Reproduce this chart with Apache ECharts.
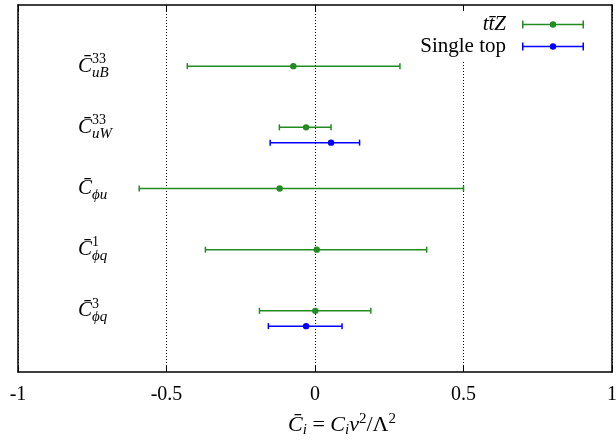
<!DOCTYPE html>
<html><head><meta charset="utf-8">
<script src="https://cdn.jsdelivr.net/npm/echarts@6/dist/echarts.min.js"></script>
<style>html,body{margin:0;padding:0;background:#fff}#c{width:616px;height:443px}</style>
</head><body><div id="c"></div>
<script>
// ---- data ----
const coeffMain = ['C\u0304', 'C\u0304', 'C\u0304', 'C\u0304', 'C\u0304'];
const coeffSup = ['33', '33', '', '1', '3'];
const coeffSub = ['uB', 'uW', '\u03D5u', '\u03D5q', '\u03D5q'];
const rowPos = [5, 4, 3, 2, 1];
const ttzCentral = [-0.073, -0.030, -0.119, 0.006, 0.001];
const ttzLow = [-0.430, -0.120, -0.592, -0.369, -0.187];
const ttzHigh = [0.286, 0.054, 0.500, 0.376, 0.188];
const stCentral = [null, 0.054, null, null, -0.030];
const stLow = [null, -0.151, null, null, -0.157];
const stHigh = [null, 0.150, null, null, 0.091];
const xTicks = [-1, -0.5, 0, 0.5, 1];
const seriesNames = ['ttZ', 'Single top'];
const xAxisTitle = '{m|C\u0304}{s|i}{r| = }{m|C}{s|i}{m|v}{p|2}{r|/\u039B}{p|2}';

// ---- build ----
const FONT = 'Liberation Serif';
const GREEN = '#228B22', BLUE = '#0000FF';
const stOffset = -0.25;

const ttzData = rowPos.map((y, i) => [ttzLow[i], ttzCentral[i], ttzHigh[i], y]);
const stData = [];
rowPos.forEach((y, i) => {
  if (stCentral[i] !== null) stData.push([stLow[i], stCentral[i], stHigh[i], y + stOffset]);
});

function renderErr(params, api) {
  const lo = api.value(0), c = api.value(1), hi = api.value(2), y = api.value(3);
  const pl = api.coord([lo, y]), pc = api.coord([c, y]), ph = api.coord([hi, y]);
  const color = api.visual('color');
  const cap = 3;
  const ls = {stroke: color, lineWidth: 1.5};
  return {type: 'group', children: [
    {type: 'line', shape: {x1: pl[0], y1: pl[1], x2: ph[0], y2: ph[1]}, style: ls},
    {type: 'line', shape: {x1: pl[0], y1: pl[1] - cap, x2: pl[0], y2: pl[1] + cap}, style: ls},
    {type: 'line', shape: {x1: ph[0], y1: ph[1] - cap, x2: ph[0], y2: ph[1] + cap}, style: ls},
    {type: 'circle', shape: {cx: pc[0], cy: pc[1], r: 3.2}, style: {fill: color}}
  ]};
}

const errIcon = 'path://M0,0L1.5,0L1.5,8L0,8Z M60.5,0L62,0L62,8L60.5,8Z M1.5,3.25L28,3.25L28,4.75L1.5,4.75Z M34,3.25L60.5,3.25L60.5,4.75L34,4.75Z M34.2,4A3.2,3.2 0 1,1 27.8,4A3.2,3.2 0 1,1 34.2,4Z';

function yLabel(v) {
  const i = rowPos.indexOf(v);
  if (i < 0) return '';
  let s = '{m|' + coeffMain[i] + '}';
  if (coeffSup[i]) s += '{p|' + coeffSup[i] + '}';
  s += '{b|' + coeffSub[i] + '}';
  return s;
}

const chart = echarts.init(document.getElementById('c'), null, {renderer: 'canvas'});
chart.setOption({
  animation: false,
  backgroundColor: '#fff',
  textStyle: {fontFamily: FONT},
  grid: {left: 18, right: 4, top: 5, bottom: 71, outerBoundsMode: 'none', containLabel: false},
  legend: {
    orient: 'vertical', right: 27, top: 10, align: 'right', itemGap: 1,
    backgroundColor: '#fff', padding: [4, 5, 4, 8],
    itemWidth: 62, itemHeight: 8,
    data: [{name: seriesNames[0], icon: errIcon}, {name: seriesNames[1], icon: errIcon}],
    formatter: name => name === seriesNames[0] ? '{i|tt\u0304Z}' : '{r|' + name + '}',
    textStyle: {
      fontFamily: FONT, fontSize: 21, color: '#000', lineHeight: 20,
      rich: {
        i: {fontFamily: FONT, fontSize: 21, fontStyle: 'italic', color: '#000', padding: [0, 11, 0, 0]},
        r: {fontFamily: FONT, fontSize: 21, color: '#000', padding: [0, 11, 0, 0]}
      }
    }
  },
  xAxis: [{
    type: 'value', min: xTicks[0], max: xTicks[xTicks.length - 1], interval: 0.5,
    position: 'bottom',
    axisLine: {show: true, onZero: false, lineStyle: {color: '#000', width: 1.5}},
    axisTick: {show: true, inside: true, length: 6, lineStyle: {color: '#000'}},
    splitLine: {show: true, lineStyle: {color: '#000', type: [1, 2], width: 1}},
    axisLabel: {
      margin: 13, fontFamily: FONT, fontSize: 20, color: '#000',
      formatter: v => xTicks.indexOf(v) >= 0 ? String(v) : ''
    },
    name: xAxisTitle, nameLocation: 'middle', nameGap: 40,
    nameTextStyle: {
      padding: [0, 0, 0, 54],
      rich: {
        m: {fontFamily: FONT, fontSize: 22, fontStyle: 'italic', color: '#000', lineHeight: 26, verticalAlign: 'middle'},
        r: {fontFamily: FONT, fontSize: 22, color: '#000', lineHeight: 26, verticalAlign: 'middle'},
        s: {fontFamily: FONT, fontSize: 15, fontStyle: 'italic', color: '#000', verticalAlign: 'bottom'},
        p: {fontFamily: FONT, fontSize: 15, color: '#000', verticalAlign: 'top'}
      }
    }
  }, {
    type: 'value', min: xTicks[0], max: xTicks[xTicks.length - 1], interval: 0.5,
    position: 'top', z: 6,
    axisLine: {show: true, onZero: false, lineStyle: {color: '#000', width: 1.5}},
    axisTick: {show: true, inside: true, length: 6, lineStyle: {color: '#000'}},
    splitLine: {show: false}, axisLabel: {show: false}
  }],
  yAxis: [{
    type: 'value', min: 0, max: 6, interval: 1, position: 'left',
    axisLine: {show: true, onZero: false, lineStyle: {color: '#000', width: 1.5}},
    axisTick: {show: false}, splitLine: {show: false},
    axisLabel: {
      inside: true, margin: 60, formatter: yLabel, color: '#000',
      rich: {
        m: {fontFamily: FONT, fontSize: 21, fontStyle: 'italic', color: '#000', lineHeight: 28, verticalAlign: 'middle'},
        p: {fontFamily: FONT, fontSize: 14, color: '#000', verticalAlign: 'top', width: 0},
        b: {fontFamily: FONT, fontSize: 15, fontStyle: 'italic', color: '#000', verticalAlign: 'bottom'}
      }
    }
  }, {
    type: 'value', min: 0, max: 6, interval: 1, position: 'right',
    axisLine: {show: true, onZero: false, lineStyle: {color: '#000', width: 1.5}},
    axisTick: {show: false}, splitLine: {show: false}, axisLabel: {show: false}
  }],
  series: [{
    name: seriesNames[0], type: 'custom', renderItem: renderErr, clip: false,
    itemStyle: {color: GREEN}, encode: {x: [0, 1, 2], y: 3}, data: ttzData, z: 3
  }, {
    name: seriesNames[1], type: 'custom', renderItem: renderErr, clip: false,
    itemStyle: {color: BLUE}, encode: {x: [0, 1, 2], y: 3}, data: stData, z: 3
  }]
});
</script>
</body></html>
